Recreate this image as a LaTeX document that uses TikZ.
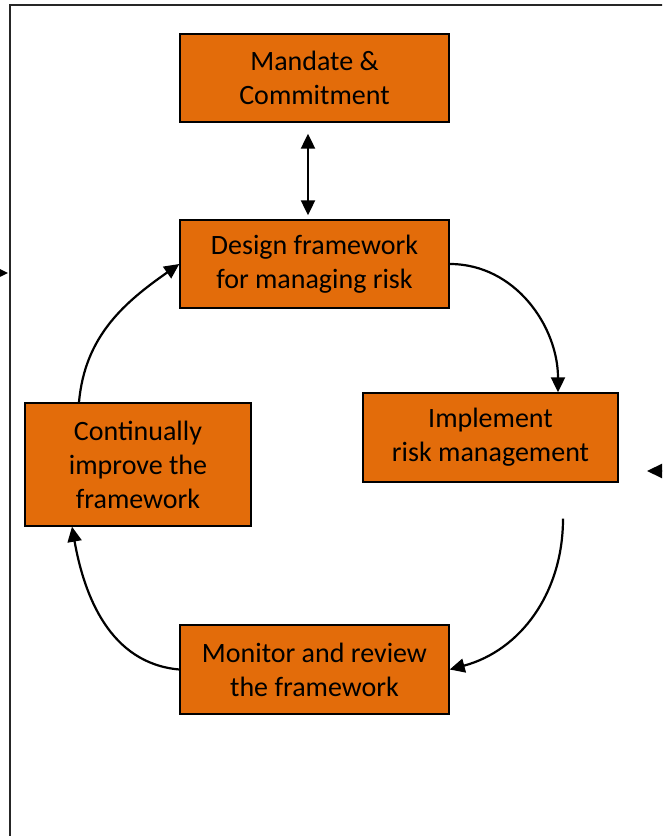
\documentclass[tikz,border=0pt]{standalone}
\usepackage{fontspec}
\setmainfont{Carlito}
\usetikzlibrary{arrows.meta}
\definecolor{boxorange}{HTML}{E36C0A}

\begin{document}
\begin{tikzpicture}[x=1pt, y=1pt,
	box/.style={draw=black, line width=1.4pt, fill=boxorange, align=center,
		inner sep=0pt, font=\fontsize{28}{34}\selectfont},
	arr/.style={-{Triangle[length=15pt,width=14pt]}, line width=2.2pt},
	dbl/.style={{Triangle[length=15pt,width=14pt]}-{Triangle[length=15pt,width=14pt]}, line width=2.2pt}]
		\useasboundingbox (0, 0) rectangle (662, 836);
		\clip (0, 0) rectangle (662, 836);
		% 外框
		\draw [line width=1.6pt, black!85] (10, -20) -- (10, 831) -- (700, 831);
		% 方框
		\node [box, minimum width=269pt, minimum height=88pt] (mandate) at (314.5, 758) {Mandate \&\\Commitment};
		\node [box, minimum width=269pt, minimum height=88pt] (design) at (314.5, 572) {Design framework\\for managing risk};
		\node [box, minimum width=255pt, minimum height=89pt] (implement) at (490.5, 398.5) {Implement\\risk management};
		\node [box, minimum width=226pt, minimum height=123pt] (improve) at (138, 371.5) {Continually\\improve the\\framework};
		\node [box, minimum width=269pt, minimum height=89pt] (monitor) at (314.5, 166.5) {Monitor and review\\the framework};
		% 端点
		\coordinate (implout) at ([xshift=72.5pt, yshift=-36pt]implement.south);
		\coordinate (leftfrom) at (-40, 563);
		\coordinate (leftin) at (8, 563);
		\coordinate (rightfrom) at (710, 365);
		\coordinate (rightin) at (647, 365);
		% 箭头
		\draw [dbl] ([xshift=-6.5pt, yshift=-11pt]mandate.south) -- ([xshift=-6.5pt, yshift=4pt]design.north);
		\draw [arr] (design.east) to [out=0, in=90] ([xshift=67.5pt]implement.north);
		\draw [arr] (implout) to [out=-90, in=15] (monitor.east);
		\draw [arr] (monitor.west) to [out=175, in=-80] ([xshift=-66pt]improve.south);
		\draw [arr] ([xshift=-59pt]improve.north) to [out=85, in=215] (design.west);
		\draw [arr] (leftfrom) -- (leftin);
		\draw [arr] (rightfrom) -- (rightin);
	\end{tikzpicture}
\end{document}
